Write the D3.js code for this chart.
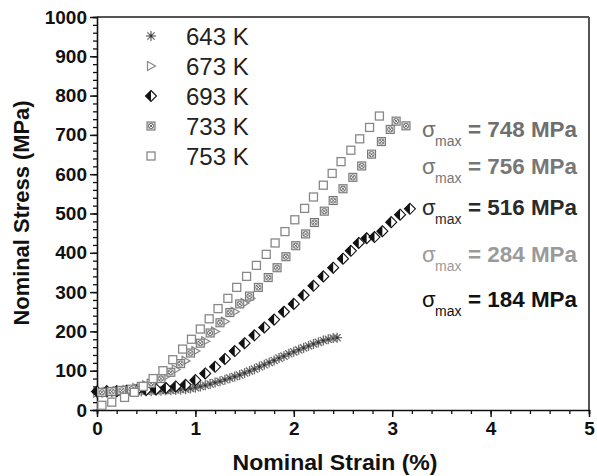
<!DOCTYPE html>
<html>
<head>
<meta charset="utf-8">
<script src="https://cdn.jsdelivr.net/npm/d3@7/dist/d3.min.js"></script>
<style>
  body { margin: 0; background: #fff; }
  text { font-family: Arial, "Liberation Sans", sans-serif; }
</style>
</head>
<body>
<script>
// ---- data ----
const strain643 = [0.00,0.05,0.10,0.15,0.20,0.25,0.30,0.35,0.40,0.45,0.50,0.55,0.60,0.65,0.70,0.75,0.80,0.85,0.90,0.95,
                   1.00,1.05,1.10,1.15,1.20,1.25,1.30,1.35,1.40,1.45,1.50,1.55,1.60,1.65,1.70,1.75,1.80,1.85,1.90,1.95,
                   2.00,2.05,2.10,2.15,2.20,2.25,2.30,2.35,2.40,2.44];
const stress643 = [44,44,45,45,45,46,46,46,47,47,48,48,49,49,50,50,51,52,53,55,
                   57,60,63,66,70,73,77,81,85,89,94,99,104,110,115,121,126,132,137,143,
                   148,153,158,163,168,172,177,180,183,184];

const strain673 = [0.00,0.10,0.20,0.30,0.40,0.50,0.60,0.70,0.80,0.90,1.00,1.10,1.20,1.30,1.40,1.50,1.56];
const stress673 = [44,46,48,51,56,63,73,86,103,125,150,175,200,225,250,272,284];

const strain693 = [0.00,0.10,0.20,0.30,0.40,0.50,0.60,0.70,0.80,0.90,1.00,1.10,1.20,1.30,1.40,1.50,1.60,1.70,
                   1.80,1.90,2.00,2.10,2.20,2.30,2.40,2.50,2.58,2.66,2.74,2.82,2.90,2.99,3.08,3.18];
const stress693 = [47,48,48,49,50,51,53,56,60,64,76,93,110,130,150,170,190,210,
                   230,250,270,292,316,340,362,385,405,425,437,440,455,478,497,512];

const strain733 = [0.05,0.15,0.25,0.35,0.45,0.55,0.65,0.75,0.85,0.95,1.05,1.15,1.25,1.35,1.45,1.55,1.64,1.74,
                   1.83,1.92,2.02,2.12,2.21,2.31,2.40,2.50,2.60,2.69,2.79,2.89,2.98,3.04,3.14];
const stress733 = [45,47,50,53,60,68,80,96,118,145,170,196,222,248,270,290,312,337,
                   362,390,418,448,477,506,533,563,592,621,651,683,714,735,723];

const strain753 = [0.05,0.15,0.28,0.38,0.47,0.57,0.67,0.77,0.87,0.96,1.05,1.14,1.23,1.33,1.42,1.52,1.62,1.72,
                   1.81,1.91,2.01,2.11,2.20,2.30,2.39,2.48,2.58,2.67,2.77,2.87];
const stress753 = [12,20,32,45,60,80,100,128,155,180,206,232,258,284,312,340,368,396,
                   425,454,484,513,542,572,602,632,661,690,719,748];

const temps = ["643 K", "673 K", "693 K", "733 K", "753 K"];
const maxLabels = ["748 MPa", "756 MPa", "516 MPa", "284 MPa", "184 MPa"];
const maxColors = ["#6f6f6f", "#777777", "#2a2a2a", "#9a9a9a", "#111111"];
const xTicks = [0, 1, 2, 3, 4, 5];
const yTicks = [0, 100, 200, 300, 400, 500, 600, 700, 800, 900, 1000];

// ---- layout ----
const W = 597, H = 476;
const svg = d3.select("body").append("svg").attr("width", W).attr("height", H);

const x = d3.scaleLinear().domain([0, 5]).range([97, 589]);
const y = d3.scaleLinear().domain([0, 1000]).range([410, 17]);

// frame (top + right, grey)
svg.append("line").attr("x1", x(0)).attr("x2", x(5)).attr("y1", y(1000)).attr("y2", y(1000))
   .attr("stroke", "#555").attr("stroke-width", 2);
svg.append("line").attr("x1", x(5)).attr("x2", x(5)).attr("y1", y(1000)).attr("y2", y(0))
   .attr("stroke", "#555").attr("stroke-width", 2);

// x axis
const xAxis = svg.append("g").attr("transform", `translate(0,${y(0)})`);
xAxis.call(d3.axisBottom(x).tickValues(d3.range(0, 5.01, 0.2)).tickSize(4).tickFormat(""));
xAxis.call(g => g.selectAll(".tick line").attr("stroke", "#111").attr("stroke-width", 1.3));
const xMaj = svg.append("g").attr("transform", `translate(0,${y(0)})`)
   .call(d3.axisBottom(x).tickValues(xTicks).tickSize(7).tickPadding(5).tickFormat(d3.format("d")));
xMaj.select(".domain").remove();
xMaj.selectAll(".tick line").attr("stroke", "#111").attr("stroke-width", 1.5);
xMaj.selectAll(".tick text").attr("font-size", 19).attr("font-weight", "bold").attr("fill", "#111")
    .attr("font-family", "Arial, 'Liberation Sans', sans-serif");
xAxis.select(".domain").attr("stroke", "#111").attr("stroke-width", 1.6);

// y axis
const yAxis = svg.append("g").attr("transform", `translate(${x(0)},0)`);
yAxis.call(d3.axisLeft(y).tickValues(d3.range(0, 1001, 20)).tickSize(4).tickFormat(""));
yAxis.selectAll(".tick line").attr("stroke", "#111").attr("stroke-width", 1.3);
yAxis.select(".domain").attr("stroke", "#111").attr("stroke-width", 1.6);
const yMaj = svg.append("g").attr("transform", `translate(${x(0)},0)`)
   .call(d3.axisLeft(y).tickValues(yTicks).tickSize(7).tickPadding(3).tickFormat(d3.format("d")));
yMaj.select(".domain").remove();
yMaj.selectAll(".tick line").attr("stroke", "#111").attr("stroke-width", 1.5);
yMaj.selectAll(".tick text").attr("font-size", 19).attr("font-weight", "bold").attr("fill", "#111")
    .attr("font-family", "Arial, 'Liberation Sans', sans-serif");

// axis titles
svg.append("text").attr("x", 335).attr("y", 470).attr("text-anchor", "middle")
   .attr("font-size", 22).attr("font-weight", "bold").attr("fill", "#111")
   .attr("textLength", 205).attr("lengthAdjust", "spacingAndGlyphs")
   .text("Nominal Strain (%)");
svg.append("text").attr("transform", "translate(29,213) rotate(-90)").attr("text-anchor", "middle")
   .attr("font-size", 22).attr("font-weight", "bold").attr("fill", "#111")
   .attr("textLength", 225).attr("lengthAdjust", "spacingAndGlyphs")
   .text("Nominal Stress (MPa)");

// ---- marker painters ----
function star(g) {
  [[-5,0,5,0],[0,-5,0,5],[-3.6,-3.6,3.6,3.6],[-3.6,3.6,3.6,-3.6]].forEach(l =>
    g.append("line").attr("x1", l[0]).attr("y1", l[1]).attr("x2", l[2]).attr("y2", l[3])
     .attr("stroke", "#6a6a6a").attr("stroke-width", 1.3));
  g.append("circle").attr("r", 1.4).attr("fill", "#333");
}
function tri(g) {
  g.append("path").attr("d", "M-3.5,-4.5L4.5,0L-3.5,4.5Z")
   .attr("fill", "#fff").attr("stroke", "#888").attr("stroke-width", 1.2);
}
function diamond(g) {
  g.append("path").attr("d", "M0,-5.5L5.5,0L0,5.5L-5.5,0Z").attr("fill", "#fff").attr("stroke", "#111").attr("stroke-width", 1.1);
  g.append("path").attr("d", "M0,-5.5L-5.5,0L0,5.5Z").attr("fill", "#111");
}
function crossed(g) {
  g.append("rect").attr("x", -4).attr("y", -4).attr("width", 8).attr("height", 8)
   .attr("fill", "#ddd").attr("stroke", "#777").attr("stroke-width", 1.1);
  g.append("circle").attr("r", 2.6).attr("fill", "#fff").attr("stroke", "#666").attr("stroke-width", 0.9);
  g.append("path").attr("d", "M-1.8,-1.8L1.8,1.8M-1.8,1.8L1.8,-1.8").attr("stroke", "#555").attr("stroke-width", 0.9);
}
function square(g) {
  g.append("rect").attr("x", -4).attr("y", -4).attr("width", 8).attr("height", 8)
   .attr("fill", "#fff").attr("stroke", "#888").attr("stroke-width", 1.3);
}

const series = [
  { xs: strain643, ys: stress643, paint: star },
  { xs: strain673, ys: stress673, paint: tri },
  { xs: strain693, ys: stress693, paint: diamond },
  { xs: strain733, ys: stress733, paint: crossed },
  { xs: strain753, ys: stress753, paint: square }
];

const plot = svg.append("g");
series.forEach(s => {
  const pts = s.xs.map((v, i) => [v, s.ys[i]]);
  plot.append("g").selectAll("g").data(pts).join("g")
      .attr("transform", d => `translate(${x(d[0])},${y(d[1])})`)
      .each(function () { s.paint(d3.select(this)); });
});

// legend
const legY = [36, 66, 96, 126, 156];
series.forEach((s, i) => {
  const g = svg.append("g").attr("transform", `translate(151,${legY[i]})`);
  s.paint(g);
  svg.append("text").attr("x", 186).attr("y", legY[i] + 9).attr("font-size", 24)
     .attr("fill", "#222").text(temps[i]);
});

// sigma max annotations
const annY = [137, 174, 215, 262, 307];
maxLabels.forEach((lab, i) => {
  const c = maxColors[i];
  svg.append("text").attr("x", 422).attr("y", annY[i]).attr("font-size", 22).attr("fill", c).text("σ");
  svg.append("text").attr("x", 435).attr("y", annY[i] + 9).attr("font-size", 14).attr("fill", c).text("max");
  svg.append("text").attr("x", 468).attr("y", annY[i]).attr("font-size", 22).attr("font-weight", "bold")
     .attr("fill", c).attr("textLength", 109).attr("lengthAdjust", "spacingAndGlyphs").text("= " + lab);
});
</script>
</body>
</html>
